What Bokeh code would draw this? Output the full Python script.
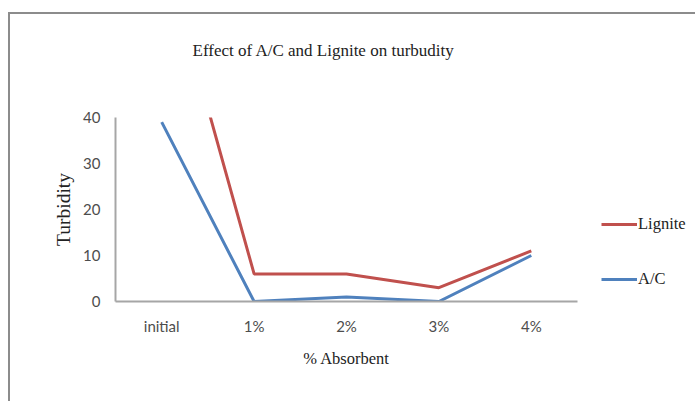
from bokeh.plotting import figure
from bokeh.models import Range1d, FixedTicker, Legend, LegendItem, Title
from bokeh.embed import file_html
from bokeh.resources import INLINE

categories = ["initial", "1%", "2%", "3%", "4%"]
lignite = [78, 6, 6, 3, 11]
ac = [39, 0, 1, 0, 10]
y_ticks = [0, 10, 20, 30, 40]
title_text = "Effect of A/C and Lignite on turbudity"

RED = "#C0504D"
BLUE = "#4F81BD"
SERIF = "Liberation Serif"
SANS = "Lato"

p = figure(frame_width=462, frame_height=184, x_range=categories, y_range=Range1d(0, 40),
           output_backend="svg", toolbar_location=None,
           min_border_left=105, min_border_right=116, min_border_top=103, min_border_bottom=100)
p.outline_line_color = None
p.xgrid.grid_line_color = None
p.ygrid.grid_line_color = None

r_lig = p.line(categories, lignite, line_color=RED, line_width=3)
r_ac = p.line(categories, ac, line_color=BLUE, line_width=3)

p.yaxis.ticker = FixedTicker(ticks=y_ticks)
for ax in (p.xaxis[0], p.yaxis[0]):
    ax.axis_line_color = "#A6A6A6"
    ax.axis_line_width = 2
    ax.major_tick_line_color = None
    ax.minor_tick_line_color = None
    ax.major_label_text_font = SANS
    ax.major_label_text_font_size = "15px"
    ax.major_label_text_color = "#4D4D4D"
    ax.axis_label_text_font = SERIF
    ax.axis_label_text_font_style = "normal"
    ax.axis_label_text_color = "#222222"
p.xaxis.axis_label_text_font_size = "16.5px"
p.yaxis.axis_label_text_font_size = "19.5px"
p.yaxis.major_label_standoff = 9
p.xaxis.major_label_standoff = 9
p.xaxis.axis_label = "% Absorbent"
p.yaxis.axis_label = "Turbidity"
p.xaxis.axis_label_standoff = 11
p.yaxis.axis_label_standoff = 6

# spacer between frame and title, then the title itself
p.add_layout(Title(text=" ", text_font_size="1px", standoff=55), "above")
p.add_layout(Title(text=title_text, align="left", offset=77, standoff=0,
                   text_font=SERIF, text_font_size="17px", text_font_style="normal",
                   text_color="#222222"), "above")

legend = Legend(items=[LegendItem(label="Lignite", renderers=[r_lig]),
                       LegendItem(label="A/C", renderers=[r_ac])],
                location=(24, 12), glyph_width=36, glyph_height=20, spacing=35,
                label_standoff=1, padding=0, margin=0, border_line_color=None,
                label_text_font=SERIF, label_text_font_size="16.5px", label_text_color="#222222")
p.add_layout(legend, "right")

p.styles = {"border-top": "2px solid #8C8C8C", "border-left": "2px solid #8C8C8C",
            "margin-top": "12px", "margin-left": "8px"}

open("out.html", "w").write(file_html(p, INLINE))
